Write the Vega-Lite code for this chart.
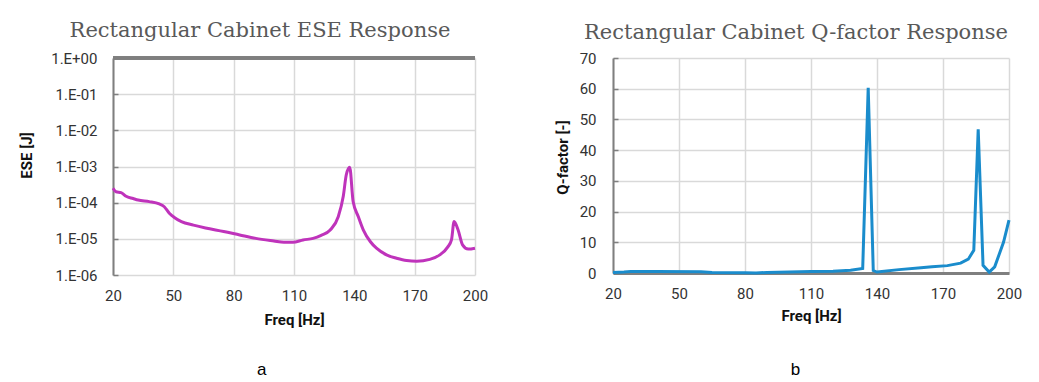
{
  "$schema": "https://vega.github.io/schema/vega-lite/v6.json",
  "background": "white",
  "padding": {"left": 19, "top": 20, "right": 0, "bottom": 0},
  "spacing": 67,
  "config": {
    "view": {"stroke": null},
    "font": "Roboto",
    "axis": {
      "labelFont": "Roboto",
      "labelFontSize": 15,
      "labelColor": "#333333",
      "labelFlush": false,
      "titleFont": "Roboto",
      "titleFontSize": 15,
      "titleFontWeight": "bold",
      "titleColor": "#111111",
      "gridColor": "#d9d9d9",
      "gridWidth": 1.5
    },
    "title": {"font": "DejaVu Serif", "fontSize": 21, "fontWeight": "normal", "color": "#595959"}
  },
  "datasets": {
    "ese": [
      {"freq": 20, "ese": 2.5e-4}, {"freq": 21.5, "ese": 2.0e-4}, {"freq": 24, "ese": 1.9e-4},
      {"freq": 26.5, "ese": 1.5e-4}, {"freq": 30, "ese": 1.3e-4}, {"freq": 32.5, "ese": 1.18e-4},
      {"freq": 38, "ese": 1.07e-4}, {"freq": 43, "ese": 9.2e-5}, {"freq": 45.5, "ese": 7.7e-5},
      {"freq": 48, "ese": 5.1e-5}, {"freq": 50.5, "ese": 3.9e-5}, {"freq": 54, "ese": 3.0e-5},
      {"freq": 60, "ese": 2.4e-5}, {"freq": 66, "ese": 2.0e-5}, {"freq": 75, "ese": 1.6e-5},
      {"freq": 83, "ese": 1.28e-5}, {"freq": 91, "ese": 1.03e-5}, {"freq": 100, "ese": 8.7e-6},
      {"freq": 105, "ese": 8.0e-6}, {"freq": 109.5, "ese": 8.0e-6}, {"freq": 114.5, "ese": 9.3e-6},
      {"freq": 119.5, "ese": 1.03e-5}, {"freq": 123.5, "ese": 1.25e-5}, {"freq": 128, "ese": 1.75e-5},
      {"freq": 132, "ese": 4.1e-5}, {"freq": 134.5, "ese": 1.5e-4}, {"freq": 136, "ese": 5.9e-4},
      {"freq": 137.7, "ese": 9.5e-4}, {"freq": 139.4, "ese": 1.07e-4}, {"freq": 142, "ese": 4.1e-5},
      {"freq": 144.5, "ese": 1.75e-5}, {"freq": 148, "ese": 8.3e-6}, {"freq": 151, "ese": 5.5e-6},
      {"freq": 156, "ese": 3.6e-6}, {"freq": 161, "ese": 2.9e-6}, {"freq": 166, "ese": 2.5e-6},
      {"freq": 171, "ese": 2.4e-6}, {"freq": 177.5, "ese": 2.7e-6}, {"freq": 182.5, "ese": 3.6e-6},
      {"freq": 186.5, "ese": 6.0e-6}, {"freq": 188.3, "ese": 9.3e-6}, {"freq": 189.6, "ese": 3.0e-5},
      {"freq": 191.6, "ese": 1.75e-5}, {"freq": 193.8, "ese": 6.8e-6}, {"freq": 196.6, "ese": 5.2e-6},
      {"freq": 200, "ese": 5.5e-6}
    ],
    "q": [
      {"freq": 20, "q": 0.2}, {"freq": 25, "q": 0.3}, {"freq": 28, "q": 0.5}, {"freq": 40, "q": 0.5},
      {"freq": 60, "q": 0.4}, {"freq": 65, "q": 0.2}, {"freq": 80, "q": 0.1}, {"freq": 85, "q": 0.0},
      {"freq": 90, "q": 0.2}, {"freq": 100, "q": 0.3}, {"freq": 110, "q": 0.5}, {"freq": 120, "q": 0.6},
      {"freq": 128, "q": 0.9}, {"freq": 133.5, "q": 1.5}, {"freq": 136, "q": 60.3}, {"freq": 138.3, "q": 0.8},
      {"freq": 140, "q": 0.3}, {"freq": 150, "q": 1.1}, {"freq": 160, "q": 1.7}, {"freq": 165, "q": 2.0},
      {"freq": 172, "q": 2.4}, {"freq": 178, "q": 3.2}, {"freq": 181.5, "q": 4.5}, {"freq": 184, "q": 7.4},
      {"freq": 186, "q": 46.8}, {"freq": 188.2, "q": 2.5}, {"freq": 191, "q": 0.3}, {"freq": 193.5, "q": 2.0},
      {"freq": 197.5, "q": 10.0}, {"freq": 200, "q": 17.2}
    ]
  },
  "hconcat": [
    {
      "title": {"text": "a", "orient": "bottom", "anchor": "middle", "dx": 8, "font": "Liberation Sans", "fontSize": 17, "color": "#000000", "offset": 35},
      "vconcat": [
        {
          "width": 362,
          "height": 217,
          "title": {"text": "Rectangular Cabinet ESE Response", "offset": 10, "dx": -34},
          "data": {"name": "ese"},
          "layer": [
            {
              "mark": {"type": "line", "color": "#bf33bb", "strokeWidth": 3, "interpolate": "monotone"},
              "encoding": {
                "x": {"field": "freq", "type": "quantitative", "title": "Freq [Hz]",
                  "scale": {"domain": [20, 200], "nice": false},
                  "axis": {"values": [20, 50, 80, 110, 140, 170, 200], "domain": false, "ticks": false, "labelPadding": 13, "titlePadding": 9}},
                "y": {"field": "ese", "type": "quantitative", "title": "ESE [J]",
                  "scale": {"type": "log", "domain": [1e-6, 1], "nice": false},
                  "axis": {"values": [1e-6, 1e-5, 1e-4, 1e-3, 1e-2, 1e-1, 1],
                    "labelExpr": "'1.E' + (datum.value >= 1 ? '+0' : '-0') + abs(round(log(datum.value) / LN10))",
                    "domainColor": "#7f7f7f", "domainWidth": 2, "tickColor": "#7f7f7f", "tickWidth": 1.5, "tickSize": -5, "labelPadding": 21, "titlePadding": 16, "titleY": 97}}
              }
            },
            {
              "mark": {"type": "rule", "color": "#7f7f7f", "strokeWidth": 2.5},
              "encoding": {"y": {"datum": 1}}
            }
          ]
        }
      ]
    },
    {
      "title": {"text": "b", "orient": "bottom", "anchor": "middle", "dx": 7, "font": "Liberation Sans", "fontSize": 17, "color": "#000000", "offset": 39},
      "vconcat": [
        {
          "width": 396,
          "height": 215,
          "title": {"text": "Rectangular Cabinet Q-factor Response", "offset": 8, "dx": -15},
          "data": {"name": "q"},
          "mark": {"type": "line", "color": "#1a8ccc", "strokeWidth": 3},
          "encoding": {
            "x": {"field": "freq", "type": "quantitative", "title": "Freq [Hz]",
              "scale": {"domain": [20, 200], "nice": false},
              "axis": {"values": [20, 50, 80, 110, 140, 170, 200], "domainColor": "#7f7f7f", "domainWidth": 3, "ticks": false, "labelPadding": 13, "titlePadding": 7, "zindex": 0}},
            "y": {"field": "q", "type": "quantitative", "title": "Q-factor [-]",
              "scale": {"domain": [0, 70], "nice": false},
              "axis": {"values": [0, 10, 20, 30, 40, 50, 60, 70], "domainColor": "#7f7f7f", "domainWidth": 2, "tickColor": "#7f7f7f", "tickWidth": 1.5, "tickSize": -5, "labelPadding": 22, "titlePadding": 9, "titleY": 99}}
          }
        }
      ]
    }
  ]
}
